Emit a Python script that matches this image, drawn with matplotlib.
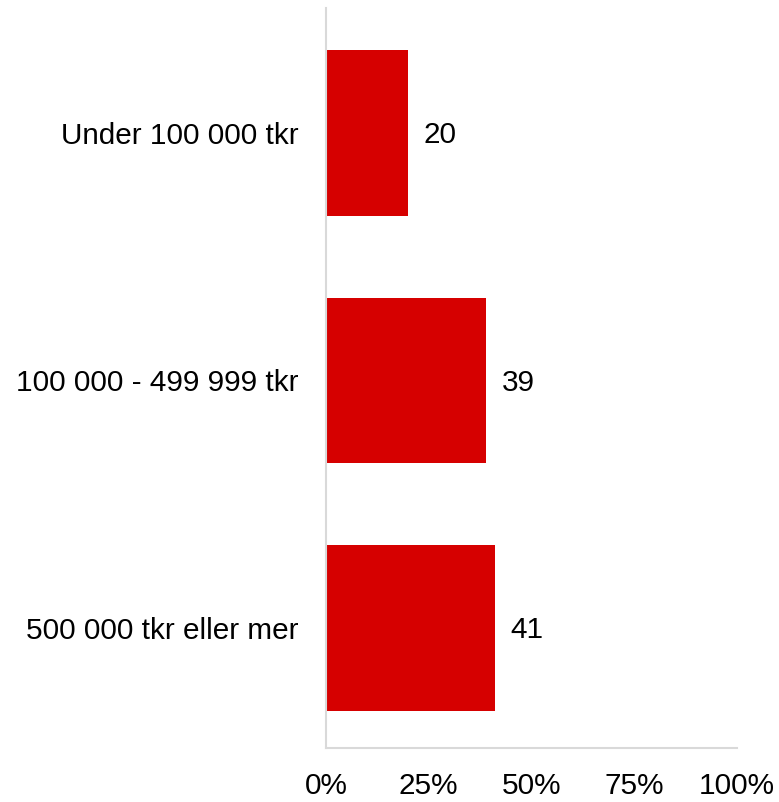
import matplotlib.pyplot as plt

plt.rcParams['font.family'] = ['Liberation Sans', 'DejaVu Sans']

# Data
kategorier = ["Under 100 000 tkr", "100 000 - 499 999 tkr", "500 000 tkr eller mer"]
andelar = [20, 39, 41]
xtick_varden = [0, 25, 50, 75, 100]
xtick_etiketter = ["0%", "25%", "50%", "75%", "100%"]

fig = plt.figure(figsize=(7.79, 8.02), dpi=100)
ax = fig.add_axes([326 / 779, 1 - 748 / 802, 411 / 779, 740 / 802])

positioner = list(range(len(kategorier)))
ax.barh(positioner, andelar, height=0.667, color="#d60000")

for pos, v in zip(positioner, andelar):
    ax.text(v + 3.8, pos + 0.01, str(v), va="center", ha="left", fontsize=21.4)

ax.set_xlim(0, 100)
ax.set_ylim(2.485, -0.505)
ax.set_yticks(positioner)
ax.set_yticklabels(kategorier, fontsize=21.4)
ax.set_xticks(xtick_varden)
ax.set_xticklabels(xtick_etiketter, fontsize=21.4)
ax.tick_params(axis="both", length=0)
ax.tick_params(axis="x", pad=17)
ax.tick_params(axis="y", pad=19.5)

for s in ["top", "right"]:
    ax.spines[s].set_visible(False)
for s in ["left", "bottom"]:
    ax.spines[s].set_color("#d9d9d9")
    ax.spines[s].set_linewidth(1.5)

fig.savefig("out.png", dpi=100)
